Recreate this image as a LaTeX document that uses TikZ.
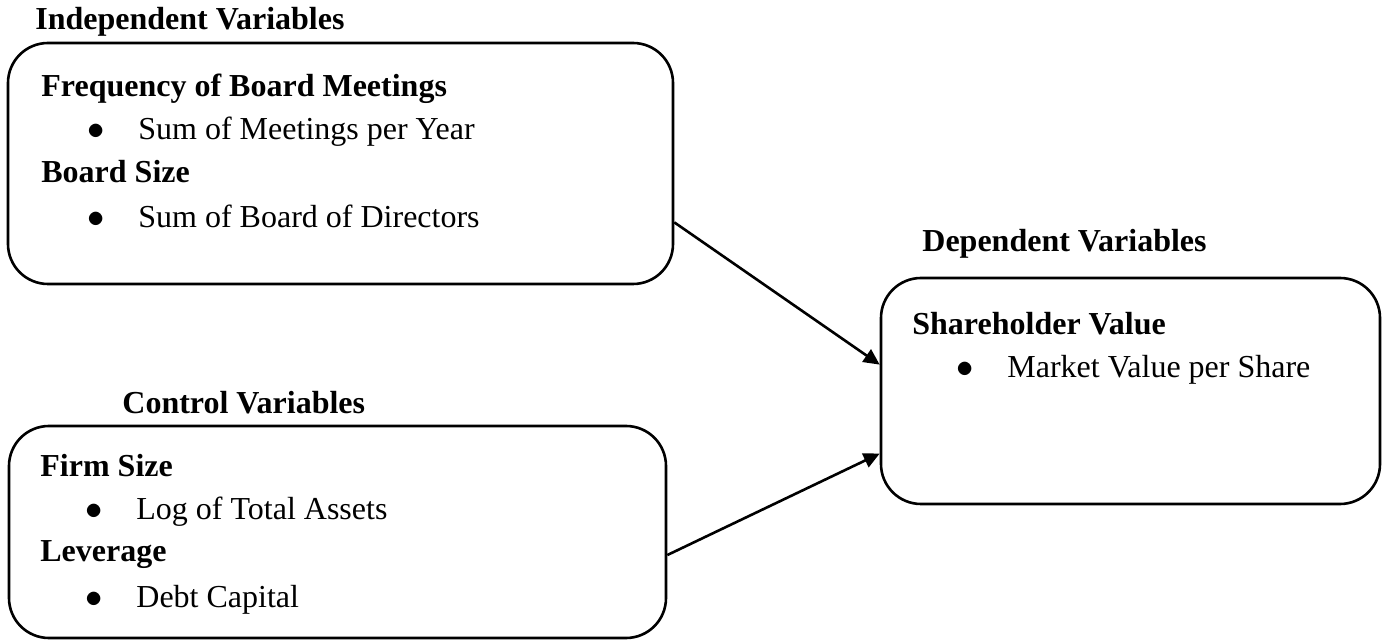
\documentclass[tikz,border=0pt]{standalone}
\usepackage{fontspec}
\setmainfont{Liberation Serif}
\usetikzlibrary{arrows.meta}

\tikzset{
  varbox/.style={draw, line width=1.3pt, rounded corners=20pt, inner sep=0pt},
  grouptitle/.style={anchor=base west, inner sep=0pt, font=\fontsize{16pt}{19pt}\selectfont\bfseries},
  varname/.style={grouptitle},
  measure/.style={anchor=base west, inner sep=0pt, font=\fontsize{16pt}{19pt}\selectfont},
  link/.style={line width=1.3pt, -{Triangle[length=8pt,width=7.5pt]}}
}
\newcommand{\bul}{\llap{$\bullet$\hspace{17pt}}}

\begin{document}
\begin{tikzpicture}[x=0.5pt, y=-0.5pt]
    \useasboundingbox (0,0) rectangle (1392,640);

    % Boxes
    \node[varbox, minimum width=332.5pt, minimum height=120.5pt] (indep) at (340.5,163.5) {};
    \node[varbox, minimum width=328.5pt, minimum height=106pt] (ctrl) at (337.5,532) {};
    \node[varbox, minimum width=249.5pt, minimum height=113pt] (dep) at (1130.5,391) {};

    % Independent variables
    \node[grouptitle] (indeptitle) at (35,30) {Independent Variables};
    \node[varname] (freq) at (41,97) {Frequency of Board Meetings};
    \node[measure] (freqm) at (138,140) {\bul Sum of Meetings per Year};
    \node[varname] (bsize) at (41,183) {Board Size};
    \node[measure] (bsizem) at (138,228) {\bul Sum of Board of Directors};

    % Control variables
    \node[grouptitle] (ctrltitle) at (122,414) {Control Variables};
    \node[varname] (fsize) at (40,477) {Firm Size};
    \node[measure] (fsizem) at (136,520) {\bul Log of Total Assets};
    \node[varname] (lev) at (40,562) {Leverage};
    \node[measure] (levm) at (136,608) {\bul Debt Capital};

    % Dependent variables
    \node[grouptitle] (deptitle) at (922,252) {Dependent Variables};
    \node[varname] (shv) at (912,335) {Shareholder Value};
    \node[measure] (shvm) at (1007,378) {\bul Market Value per Share};

    % Links
    \draw[link] (indep.-10) -- (dep.174);
    \draw[link] (ctrl.-4.3) -- (dep.-166.3);
\end{tikzpicture}
\end{document}
